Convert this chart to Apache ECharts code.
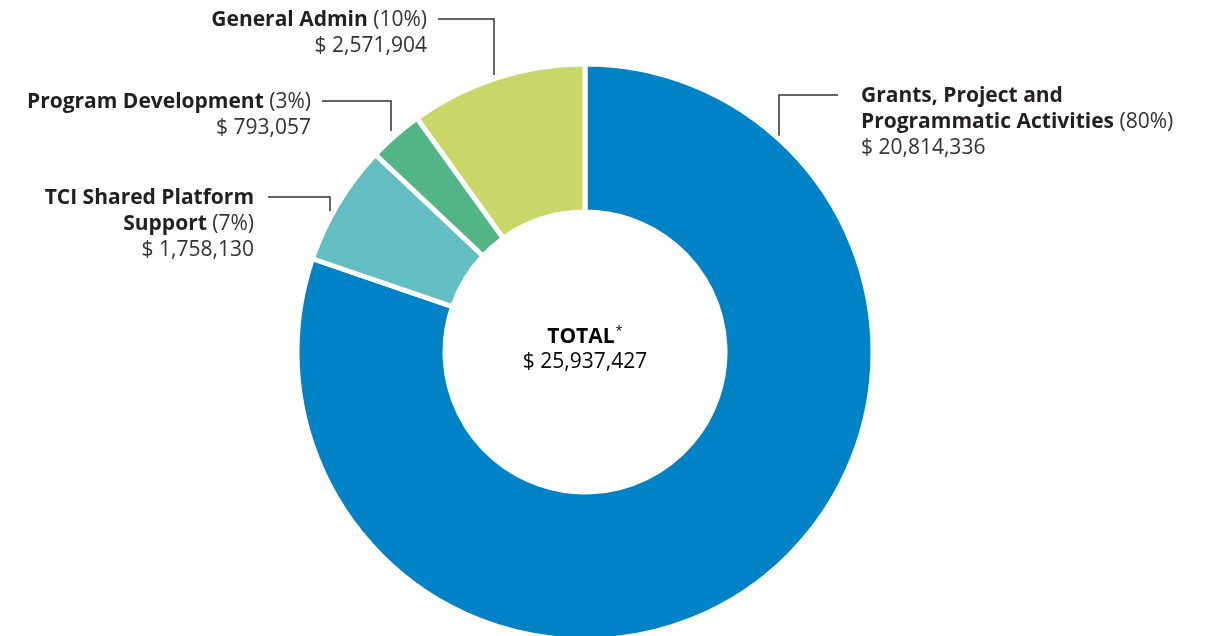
<!DOCTYPE html>
<html>
<head>
<meta charset="utf-8">
<script src="https://cdn.jsdelivr.net/npm/echarts@6/dist/echarts.min.js"></script>
<style>
  html, body { margin: 0; padding: 0; background: #fff; }
  #chart { width: 1212px; height: 636px; }
</style>
</head>
<body>
<div id="chart"></div>
<script>
// budget split, clockwise from 12 o'clock
var categories = ['Grants, Project and\nProgrammatic Activities', 'TCI Shared Platform\nSupport', 'Program Development', 'General Admin'];
var amounts = [20814336, 1758130, 793057, 2571904];
var sliceColors = ['#0082c6', '#63bec2', '#52b585', '#c9d768'];

var total = amounts.reduce(function (a, b) { return a + b; }, 0);

// label anchor (first line centre) + elbow of the leader line
var LINE_H = 26;
var labelSpots = [
    { x: 861, y: 96, align: 'left', elbowX: 779, endX: 838, bottom: 136 },
    { x: 254, y: 198, align: 'right', elbowX: 330, endX: 268, bottom: 211 },
    { x: 311, y: 102, align: 'right', elbowX: 391, endX: 322, bottom: 131 },
    { x: 427, y: 20, align: 'right', elbowX: 494, endX: 438, bottom: 75 }
];

var fontFam = '"Open Sans", sans-serif';
var FS = 21;

function money(v) {
    return '$ ' + v.toLocaleString('en-US');
}

var myChart = echarts.init(document.getElementById('chart'));

var option = {
    backgroundColor: '#fff',
    animation: false,
    graphic: [
        {
            type: 'text',
            x: 585,
            y: 350,
            style: {
                text: '{b|TOTAL}{s|*}\n{v|' + money(total) + '}',
                align: 'center',
                verticalAlign: 'middle',
                rich: {
                    b: { fontFamily: fontFam, fontWeight: 'bold', fontSize: FS, color: '#231f20', lineHeight: 25 },
                    s: { fontFamily: fontFam, fontSize: 13, color: '#231f20', verticalAlign: 'top', lineHeight: 25, padding: [0, 0, 8, 1] },
                    v: { fontFamily: fontFam, fontSize: FS, color: '#231f20', lineHeight: 25 }
                }
            }
        }
    ],
    series: [
        {
            type: 'pie',
            center: [585, 352],
            radius: [140, 288],
            startAngle: 90,
            clockwise: true,
            avoidLabelOverlap: false,
            itemStyle: { borderColor: '#fff', borderWidth: 5 },
            emphasis: { disabled: true },
            label: {
                show: true,
                formatter: function (p) {
                    var lines = p.name.split('\n');
                    var pct = Math.round(p.value / total * 100);
                    var out = lines.map(function (l, i) {
                        return '{n|' + l + '}' + (i === lines.length - 1 ? '{p| (' + pct + '%)}' : '');
                    });
                    out.push('{v|' + money(p.value) + '}');
                    return out.join('\n');
                },
                rich: {
                    n: { fontFamily: fontFam, fontWeight: 'bold', fontSize: FS, color: '#231f20', lineHeight: LINE_H },
                    p: { fontFamily: fontFam, fontSize: FS, color: '#333', lineHeight: LINE_H },
                    v: { fontFamily: fontFam, fontSize: FS, color: '#333', lineHeight: LINE_H }
                }
            },
            labelLine: {
                show: true,
                lineStyle: { color: '#333', width: 1.5 }
            },
            labelLayout: function (params) {
                var s = labelSpots[params.dataIndex];
                return {
                    x: s.x,
                    y: s.y - LINE_H / 2,
                    align: s.align,
                    verticalAlign: 'top',
                    labelLinePoints: [[s.elbowX, s.bottom], [s.elbowX, s.y - 1], [s.endX, s.y - 1]]
                };
            },
            data: categories.map(function (c, i) {
                return { name: c, value: amounts[i], itemStyle: { color: sliceColors[i] } };
            })
        }
    ]
};

myChart.setOption(option);
</script>
</body>
</html>
